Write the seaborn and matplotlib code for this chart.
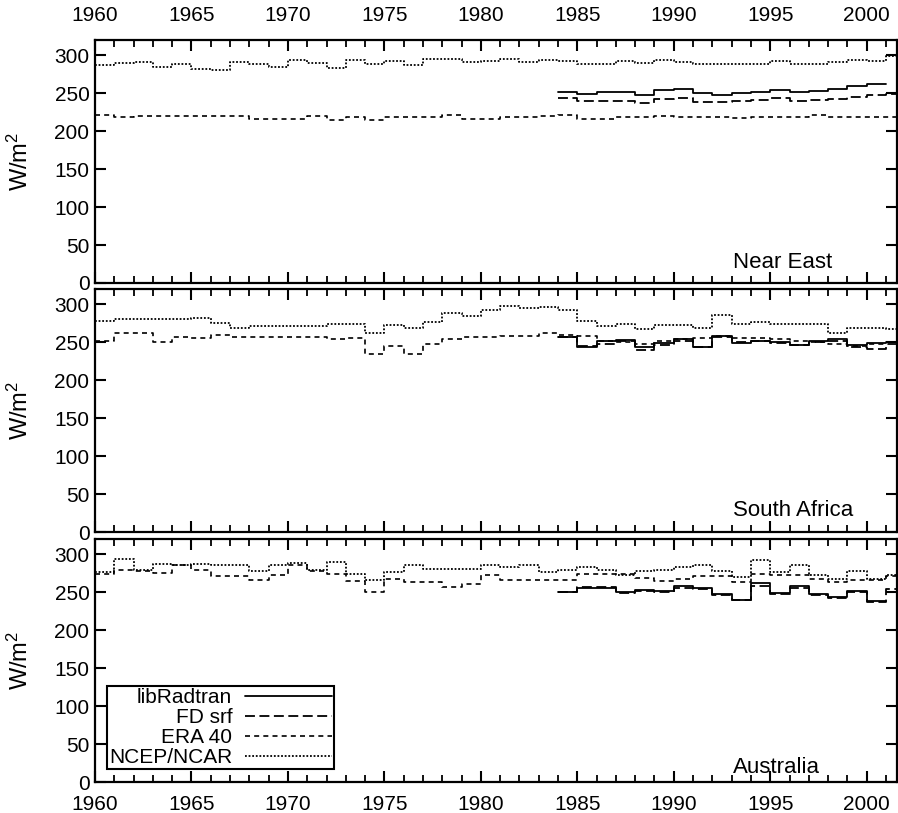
import numpy as np
import pandas as pd
import matplotlib
matplotlib.use("Agg")
import matplotlib.pyplot as plt
from matplotlib.ticker import MultipleLocator
import seaborn as sns

# ---------------- data ----------------
years_long = list(range(1960, 2002))      # ERA 40 / NCEP/NCAR
years_lib = list(range(1984, 2001))       # libRadtran
years_fd = list(range(1984, 2002))        # FD srf

regions = ["Near East", "South Africa", "Australia"]
series_names = ["libRadtran", "FD srf", "ERA 40", "NCEP/NCAR"]

ne_ncep = [286.6, 290, 291, 285, 288, 282, 280, 291, 289, 285, 294, 290, 283, 294, 289, 293,
           287.5, 295, 295.5, 291, 292, 295.5, 291.5, 294, 292.5, 289, 289, 292.5, 290, 294,
           291.5, 289, 289, 289, 289, 292.5, 289, 289, 291.5, 294, 292.5, 299]
ne_era = [221, 218, 220, 220, 220, 220, 220, 220, 216.5, 216.5, 216.5, 220, 214, 218, 214, 218,
          218, 218, 221, 216.5, 216.5, 219, 219, 220, 221, 216.5, 216.5, 219, 219, 220,
          219, 218, 218, 217, 218, 219, 219, 221, 219, 219, 219, 218]
ne_lib = [252, 249, 251, 251, 247.3, 253.6, 255.4, 250, 247.8, 250, 252, 254.5, 251, 253,
          255.4, 259, 262]
ne_fd = [244, 240, 240, 240, 237.5, 242.4, 244, 239, 239, 240, 241, 243, 240, 241, 242.4,
         244.6, 247, 248.7]

sa_ncep = [278, 280.5, 280.5, 280.5, 280.5, 282, 275, 269, 271, 271, 271, 271, 274, 274, 262.7,
           272, 268, 277, 288, 284, 293, 297.7, 294.5, 296, 293, 278, 271, 274, 267, 272.7,
           272.7, 269, 286, 274, 276, 274, 274, 274, 262.7, 268, 268, 267]
sa_era = [251, 261.4, 261.4, 250, 256.8, 255.5, 260, 256.8, 256.8, 256.8, 256.8, 256.8, 254.5,
          256, 234, 245.5, 234, 247.7, 254.5, 256.8, 256.8, 258, 258, 261.4, 259, 258, 252,
          250, 248, 252, 254, 255, 258, 256, 255, 254, 252, 250, 247, 245, 247, 250]
sa_lib = [256.8, 244, 252, 253, 243, 249, 253.6, 244, 257.7, 248.6, 252, 250, 246.8, 251.4,
          254.5, 246.4, 248.6]
sa_fd = [256.8, 245.5, 247.7, 252, 240, 246.4, 252, 243, 256.8, 250, 252, 249, 246, 250, 252,
         244, 241, 248]

au_ncep = [276.5, 293.4, 279.6, 286.7, 285.4, 287.6, 286.3, 286.3, 277.9, 285.4, 288.5, 278.8,
           289.8, 274.3, 266.4, 276.5, 285.4, 281, 281, 281, 285.4, 283.2, 285.4, 276.5, 279.6,
           283.2, 279.6, 272, 277.9, 279.6, 283.2, 285.4, 277.9, 270, 292, 276.5, 285.4, 272,
           267.7, 277.9, 267.7, 272]
au_era = [274.3, 279.6, 277.9, 275.2, 285.4, 279.6, 270.8, 270.8, 266.4, 272, 285.4, 277.9,
          273.5, 264.6, 250, 267.7, 263.3, 263.3, 256.6, 261, 272, 266.4, 266.4, 266.4, 266.4,
          274.3, 274.3, 274.3, 269, 264.6, 267.7, 270.8, 270.8, 263.3, 273.5, 272, 272, 267.7,
          263.3, 266.4, 266.4, 270.8]
au_lib = [250, 255.8, 255.8, 250, 253, 252, 258, 255.8, 247.8, 240.3, 262, 249, 258, 247.8,
          243.4, 252, 239]
au_fd = [250, 257, 257, 248.5, 251, 250, 255.8, 254, 246, 240.3, 258, 248, 256, 246, 242, 250,
         236.8, 254]

x_ticks = [1960, 1965, 1970, 1975, 1980, 1985, 1990, 1995, 2000]
y_ticks = [0, 50, 100, 150, 200, 250, 300]

# ---------------- style ----------------
sns.set_theme(style="ticks")
plt.rcParams["font.family"] = ["Liberation Sans", "DejaVu Sans"]
plt.rcParams["mathtext.fontset"] = "custom"
plt.rcParams["mathtext.rm"] = "Liberation Sans"
plt.rcParams["mathtext.it"] = "Liberation Sans:italic"
for key in ["text.color", "axes.labelcolor", "xtick.color", "ytick.color", "axes.edgecolor"]:
    plt.rcParams[key] = "black"

styles = {
    "libRadtran": dict(linestyle="-", lw=1.3),
    "FD srf": dict(linestyle=(0, (5.5, 2.5)), lw=1.3),
    "ERA 40": dict(linestyle=(0, (3, 2.5)), lw=1.2),
    "NCEP/NCAR": dict(linestyle=(0, (1, 1)), lw=1.3),
}


def make_frame(years, values, name):
    # repeat last value so the final annual step is drawn to the year's end
    xs = list(years) + [years[-1] + 1]
    ys = list(values) + [values[-1]]
    return pd.DataFrame({"year": xs, "flux": ys, "series": name})


panel_data = [
    (ne_lib, ne_fd, ne_era, ne_ncep),
    (sa_lib, sa_fd, sa_era, sa_ncep),
    (au_lib, au_fd, au_era, au_ncep),
]
label_y = [0.04, 0.045, 0.018]

fig = plt.figure(figsize=(8.98, 8.13), dpi=100)
W, H = 898.0, 813.0
left_px, right_px = 95, 897
panel_px = [(40, 283), (289, 532), (539, 782)]
axes = []
for top, bot in panel_px:
    ax = fig.add_axes([left_px / W, 1 - bot / H, (right_px - left_px) / W, (bot - top) / H])
    axes.append(ax)

for i, (ax, region, data) in enumerate(zip(axes, regions, panel_data)):
    lib, fd, era, ncep = data
    frames = [
        make_frame(years_lib, lib, "libRadtran"),
        make_frame(years_fd, fd, "FD srf"),
        make_frame(years_long, era, "ERA 40"),
        make_frame(years_long, ncep, "NCEP/NCAR"),
    ]
    for df in frames:
        name = df["series"].iloc[0]
        sns.lineplot(data=df, x="year", y="flux", ax=ax, color="black",
                     drawstyle="steps-post", estimator=None, label=name,
                     **styles[name])
    ax.set_xlim(1960, 2001.57)
    ax.set_ylim(0, 320)
    ax.set_xticks(x_ticks)
    ax.set_yticks(y_ticks)
    ax.xaxis.set_minor_locator(MultipleLocator(1))
    ax.tick_params(axis="both", which="major", direction="in", length=8, width=1.5,
                   top=True, right=True, labelsize=15, colors="black")
    ax.tick_params(axis="both", which="minor", direction="in", length=5, width=1.3,
                   top=True, right=True)
    ax.tick_params(axis="x", labelbottom=(i == 2), labeltop=(i == 0),
                   pad=(11 if i == 0 else 9))
    ax.tick_params(axis="y", pad=4)
    for sp in ax.spines.values():
        sp.set_linewidth(1.6)
        sp.set_color("black")
    ax.set_xlabel("")
    ax.set_ylabel("W/m$^2$", fontsize=17)
    ax.yaxis.set_label_coords(-0.078, 0.5)
    ax.text(0.795, label_y[i], region, transform=ax.transAxes, fontsize=16,
            ha="left", va="bottom")
    if i == 2:
        leg = ax.legend(loc="lower left", bbox_to_anchor=(0.015, 0.053), borderaxespad=0,
                        markerfirst=False, fontsize=15, handlelength=4.2,
                        handletextpad=0.6, labelspacing=0.05, borderpad=0.1,
                        fancybox=False, framealpha=1, edgecolor="black",
                        labelcolor="black")
        leg.get_frame().set_linewidth(1.5)
    else:
        ax.get_legend().remove()

fig.savefig("out.png", dpi=100, facecolor="white")
